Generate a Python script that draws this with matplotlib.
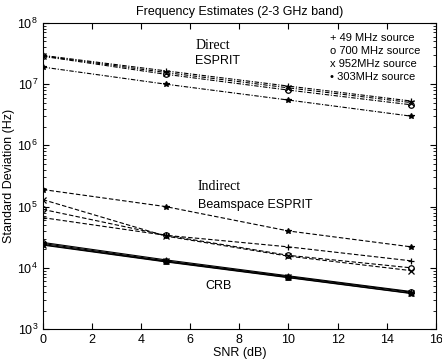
import matplotlib
matplotlib.use("Agg")
import matplotlib.pyplot as plt
from matplotlib.ticker import LogLocator, NullFormatter

snr = [0, 5, 10, 15]

# Direct ESPRIT
direct_49 = [2.95e7, 1.65e7, 9.3e6, 5.3e6]
direct_700 = [2.85e7, 1.45e7, 8.0e6, 4.6e6]
direct_952 = [2.9e7, 1.55e7, 8.7e6, 5.0e6]
direct_303 = [1.9e7, 1.0e7, 5.5e6, 3.0e6]

# Indirect Beamspace ESPRIT
indirect_49 = [6.6e4, 3.4e4, 2.2e4, 1.3e4]
indirect_700 = [9.0e4, 3.4e4, 1.6e4, 1.0e4]
indirect_952 = [1.3e5, 3.3e4, 1.55e4, 9.0e3]
indirect_303 = [1.9e5, 1.0e5, 4.0e4, 2.2e4]

# CRB
crb_49 = [2.6e4, 1.35e4, 7.4e3, 4.1e3]
crb_700 = [2.5e4, 1.3e4, 7.2e3, 4.0e3]
crb_952 = [2.4e4, 1.27e4, 7.0e3, 3.85e3]
crb_303 = [2.35e4, 1.25e4, 6.9e3, 3.8e3]

markers = ['+', 'o', 'x', '*']
legend_labels = ['+ 49 MHz source', 'o 700 MHz source', 'x 952MHz source', '\u2022 303MHz source']

fig = plt.figure(figsize=(4.42, 3.64), dpi=100)
ax = fig.add_axes([0.097, 0.096, 0.889, 0.841])

sans = ['Liberation Sans', 'DejaVu Sans']
serif = ['Liberation Serif', 'DejaVu Serif']

groups = [
    ([direct_49, direct_700, direct_952, direct_303], (0, (4, 1.5, 1, 1.5))),
    ([indirect_49, indirect_700, indirect_952, indirect_303], (0, (4, 2))),
    ([crb_49, crb_700, crb_952, crb_303], '-'),
]
for series, ls in groups:
    for vals, m in zip(series, markers):
        ax.plot(snr, vals, color='black', linestyle=ls, linewidth=0.8,
                marker=m, markersize=4, markerfacecolor='none' if m == 'o' else 'black',
                markeredgewidth=0.9)

ax.set_yscale('log')
ax.set_xlim(0, 16)
ax.set_ylim(1e3, 1e8)
ax.set_xticks(range(0, 17, 2))
ax.yaxis.set_major_locator(LogLocator(base=10, numticks=10))
ax.yaxis.set_minor_locator(LogLocator(base=10, subs=range(2, 10), numticks=10))
ax.yaxis.set_minor_formatter(NullFormatter())
ax.tick_params(which='both', direction='in', top=True, right=True, labelsize=9)
ax.tick_params(which='major', length=4)
ax.tick_params(which='minor', length=2)
for lab in ax.get_xticklabels() + ax.get_yticklabels():
    lab.set_family(sans)

ax.set_xlabel('SNR (dB)', fontsize=9, family=sans, labelpad=1)
ax.set_ylabel('Standard Deviation (Hz)', fontsize=9, family=sans, labelpad=2)
ax.set_title('Frequency Estimates (2-3 GHz band)', fontsize=9, family=sans, pad=6)

ax.text(6.2, 4.3e7, 'Direct', fontsize=10, family=serif, va='center')
ax.text(6.2, 2.4e7, 'ESPRIT', fontsize=9, family=sans, va='center')
ax.text(6.3, 2.15e5, 'Indirect', fontsize=10, family=serif, va='center')
ax.text(6.3, 1.08e5, 'Beamspace ESPRIT', fontsize=9, family=sans, va='center')
ax.text(6.6, 5.0e3, 'CRB', fontsize=9, family=sans, va='center')

for i, t in enumerate(legend_labels):
    ax.text(0.73, 0.95 - i * 0.042, t, transform=ax.transAxes, fontsize=8,
            family=sans, va='center')

fig.savefig('out.png', dpi=100)
